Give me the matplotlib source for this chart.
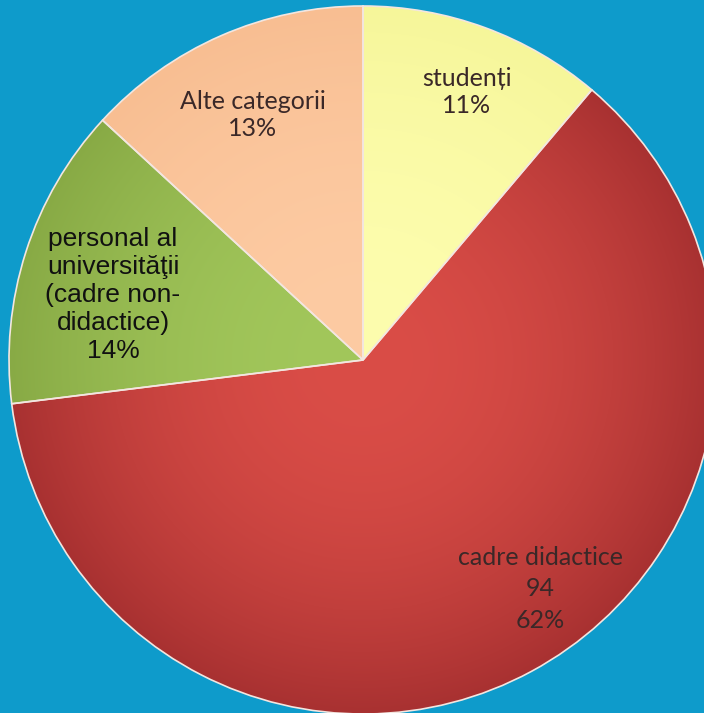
import numpy as np
import matplotlib
matplotlib.use("Agg")
import matplotlib.pyplot as plt
from matplotlib.colors import to_rgb

categories = ["studenți", "cadre didactice", "personal al universităţii (cadre non-didactice)", "Alte categorii"]
values = [17, 94, 21, 20]
percent_labels = ["11%", "62%", "14%", "13%"]
label_texts = ["studenți\n11%", "cadre didactice\n94\n62%",
               "personal al\nuniversităţii\n(cadre non-\ndidactice)\n14%",
               "Alte categorii\n13%"]

W, H = 704, 713
fig = plt.figure(figsize=(W / 100, H / 100), dpi=100)
bg = "#0E9BCB"
fig.patch.set_facecolor(bg)
ax = fig.add_axes([0, 0, 1, 1])
ax.set_facecolor(bg)

cx, cy, R = 363, H - 360, 354
light = ["#FDFDAE", "#DA4D47", "#A2C75B", "#FDCBA3"]
dark = ["#F6F69A", "#A83131", "#88AA45", "#F8BE92"]

wedges, _ = ax.pie(values, startangle=90, counterclock=False, center=(cx, cy),
                   radius=R, colors=light,
                   wedgeprops=dict(edgecolor="#F3E6E0", linewidth=1.2),
                   frame=True)
ax.set_xlim(0, W)
ax.set_ylim(0, H)
ax.set_aspect("equal")
ax.axis("off")

# radial shading
yy, xx = np.mgrid[0:H, 0:W]
rr = np.sqrt((xx + 0.5 - cx) ** 2 + (yy + 0.5 - cy) ** 2) / R
t = np.clip(rr, 0, 1) ** 2
for w, lc, dc in zip(wedges, light, dark):
    l = np.array(to_rgb(lc)); d = np.array(to_rgb(dc))
    img = l[None, None, :] * (1 - t[..., None]) + d[None, None, :] * t[..., None]
    im = ax.imshow(img, extent=(0, W, 0, H), origin="lower", zorder=w.get_zorder() + 0.1,
                   interpolation="bilinear")
    im.set_clip_path(w)
    w.set_facecolor("none")
    w.set_zorder(w.get_zorder() + 0.2)

calibri = ["Lato", "DejaVu Sans"]
arial = ["Liberation Sans", "DejaVu Sans"]
pos = [(467, 92), (540, 589), (113, 295), (253, 115)]
fonts = [calibri, calibri, arial, calibri]
sizes = [18, 18, 19, 18]
lsp = [1.25, 1.45, 1.22, 1.25]
for txt, (px, py), fam, s, ls in zip(label_texts, pos, fonts, sizes, lsp):
    ax.text(px, H - py, txt, ha="center", va="center", family=fam, fontsize=s,
            color="#3a2828" if fam is calibri else "#111111", linespacing=ls, zorder=10)

fig.savefig("out.png", dpi=100, facecolor=bg)
